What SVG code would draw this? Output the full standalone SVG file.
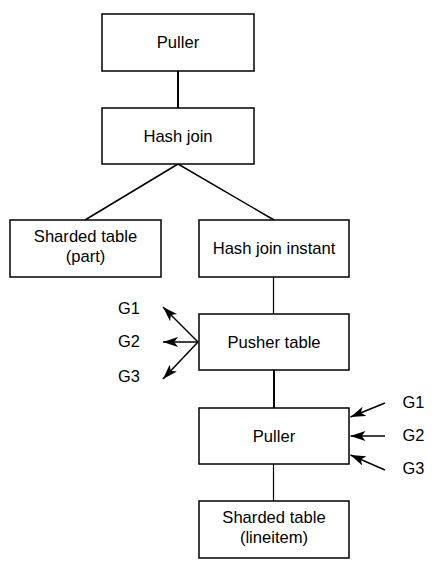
<svg xmlns="http://www.w3.org/2000/svg" width="437" height="569" viewBox="0 0 437 569">
<defs>
<style>
.box{fill:#ffffff;stroke:#000000;stroke-width:1.5}
.lbl{font-family:"Liberation Sans",Arial,sans-serif;font-size:16.6px;fill:#000000;text-anchor:middle}
.g{font-family:"Liberation Sans",Arial,sans-serif;font-size:16.4px;fill:#000000}
.c{fill:none;stroke:#000000;stroke-width:1.5}
.thick{stroke-width:2}
.thin{stroke-width:1.2}
</style>
<marker id="arr" viewBox="0 0 15 11" refX="15" refY="5.5" markerWidth="15" markerHeight="11" markerUnits="userSpaceOnUse" orient="auto">
<path d="M0,0.5 L15,5.5 L0,10.5 L3.8,5.5 Z" fill="#000000"/>
</marker>
</defs>
<rect width="437" height="569" fill="#ffffff"/>
<g id="connectors">
<line class="c thick" x1="178" y1="71" x2="178" y2="108"/>
<line class="c" x1="178" y1="164" x2="85" y2="220"/>
<line class="c" x1="178" y1="164" x2="274" y2="220"/>
<line class="c thin" x1="273.5" y1="277" x2="273.5" y2="314"/>
<line class="c thick" x1="274" y1="370" x2="274" y2="408"/>
<line class="c thin" x1="273.5" y1="464" x2="273.5" y2="501"/>
<line class="c" x1="198" y1="342" x2="163" y2="307" marker-end="url(#arr)"/>
<line class="c" x1="198" y1="342" x2="163" y2="342" marker-end="url(#arr)"/>
<line class="c" x1="198" y1="342" x2="163" y2="379" marker-end="url(#arr)"/>
<line class="c" x1="385" y1="403" x2="350.5" y2="417" marker-end="url(#arr)"/>
<line class="c" x1="385" y1="436" x2="350.5" y2="436" marker-end="url(#arr)"/>
<line class="c" x1="385" y1="470" x2="350.5" y2="455" marker-end="url(#arr)"/>
</g>
<g id="puller-top">
<rect class="box" x="102" y="14" width="152" height="57"/>
<text class="lbl" x="178" y="48.4">Puller</text>
</g>
<g id="hash-join">
<rect class="box" x="102" y="108" width="152" height="56"/>
<text class="lbl" x="178" y="141.9">Hash join</text>
</g>
<g id="sharded-part">
<rect class="box" x="10" y="220" width="151" height="57"/>
<text class="lbl" x="85.5" y="241.9">Sharded table</text>
<text class="lbl" x="85.5" y="262.2">(part)</text>
</g>
<g id="hash-join-instant">
<rect class="box" x="199" y="220" width="150" height="57"/>
<text class="lbl" x="274" y="254.4">Hash join instant</text>
</g>
<g id="pusher-table">
<rect class="box" x="199" y="314" width="150" height="56"/>
<text class="lbl" x="274" y="347.9">Pusher table</text>
</g>
<g id="puller-bottom">
<rect class="box" x="199" y="408" width="150" height="56"/>
<text class="lbl" x="274" y="441.9">Puller</text>
</g>
<g id="sharded-lineitem">
<rect class="box" x="199" y="501" width="150" height="57"/>
<text class="lbl" x="274" y="523.1">Sharded table</text>
<text class="lbl" x="274" y="543.2">(lineitem)</text>
</g>
<g id="left-labels">
<text class="g" x="118" y="314">G1</text>
<text class="g" x="118" y="346.6">G2</text>
<text class="g" x="118" y="381.7">G3</text>
</g>
<g id="right-labels">
<text class="g" x="402.5" y="408.3">G1</text>
<text class="g" x="402.5" y="440.7">G2</text>
<text class="g" x="402.5" y="474">G3</text>
</g>
</svg>
